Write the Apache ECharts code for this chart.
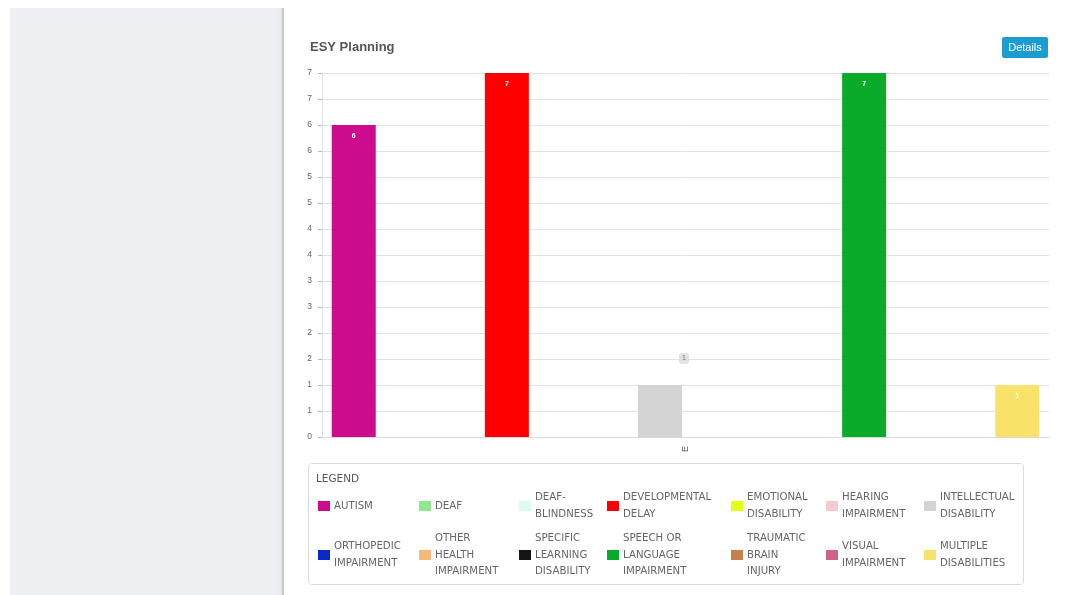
<!DOCTYPE html>
<html>
<head>
<meta charset="utf-8">
<script src="https://cdn.jsdelivr.net/npm/echarts@6/dist/echarts.min.js"></script>
<style>
  html, body { margin: 0; padding: 0; width: 1083px; height: 595px; background: #ffffff; overflow: hidden; }
  #side { position: absolute; left: 10px; top: 8px; width: 266px; height: 587px; background: #eff0f3; }
  #shade { position: absolute; left: 276px; top: 8px; width: 6px; height: 587px; background: linear-gradient(to right, #eff0f3, #e4e6ea); }
  #edge { position: absolute; left: 282px; top: 8px; width: 2px; height: 587px; background: #c4c6ca; }
  #chart { position: absolute; left: 0; top: 0; width: 1083px; height: 595px; }
</style>
</head>
<body>
<div id="side"></div>
<div id="shade"></div>
<div id="edge"></div>
<div id="chart"></div>
<script>
// ---- data ----
const categories = ['E'];
const seriesNames = [
  'AUTISM', 'DEAF', 'DEAF-BLINDNESS', 'DEVELOPMENTAL DELAY', 'EMOTIONAL DISABILITY',
  'HEARING IMPAIRMENT', 'INTELLECTUAL DISABILITY', 'ORTHOPEDIC IMPAIRMENT',
  'OTHER HEALTH IMPAIRMENT', 'SPECIFIC LEARNING DISABILITY', 'SPEECH OR LANGUAGE IMPAIRMENT',
  'TRAUMATIC BRAIN INJURY', 'VISUAL IMPAIRMENT', 'MULTIPLE DISABILITIES'
];
const seriesValues = [6, 0, 0, 7, 0, 0, 1, 0, 0, 0, 7, 0, 0, 1];
const legendLabels = [
  'AUTISM', 'DEAF', 'DEAF-\nBLINDNESS', 'DEVELOPMENTAL\nDELAY', 'EMOTIONAL\nDISABILITY',
  'HEARING\nIMPAIRMENT', 'INTELLECTUAL\nDISABILITY', 'ORTHOPEDIC\nIMPAIRMENT',
  'OTHER\nHEALTH\nIMPAIRMENT', 'SPECIFIC\nLEARNING\nDISABILITY', 'SPEECH OR\nLANGUAGE\nIMPAIRMENT',
  'TRAUMATIC\nBRAIN\nINJURY', 'VISUAL\nIMPAIRMENT', 'MULTIPLE\nDISABILITIES'
];
const seriesColors = [
  '#cc0c8c', '#8fe88f', '#dcfbf4', '#ff0000', '#e4ff10',
  '#fcc8d0', '#d4d4d4', '#0a28c8', '#f8b878', '#151515',
  '#0aaa2a', '#c8804a', '#d0628a', '#f9e26a'
];
const yTicks = { min: 0, max: 7, interval: 0.5 };

// ---- layout ----
const legendCols = [318, 419, 519, 607, 731, 826, 924];
const legendRowCenters = [506, 555];
const lineH = 16.5;

const series = seriesNames.map((name, i) => {
  const isIntel = name === 'INTELLECTUAL DISABILITY';
  return {
    name: name,
    type: 'bar',
    barWidth: 44,
    barGap: '16%',
    itemStyle: { color: seriesColors[i] },
    data: [seriesValues[i]],
    label: isIntel ? {
      show: true,
      position: 'top',
      offset: [24, -16],
      formatter: p => p.value ? String(p.value) : '',
      color: '#777',
      fontSize: 7,
      backgroundColor: '#e2e2e2',
      borderRadius: 3,
      padding: [2, 3]
    } : {
      show: true,
      position: 'insideTop',
      distance: 8,
      formatter: p => p.value ? String(p.value) : '',
      color: '#ffffff',
      fontSize: 7,
      fontWeight: 'bold'
    }
  };
});

const legends = seriesNames.map((name, i) => {
  const row = Math.floor(i / 7), col = i % 7;
  const lines = legendLabels[i].split('\n').length;
  const h = lines * lineH;
  return {
    data: [name],
    left: legendCols[col],
    top: legendRowCenters[row] - h / 2,
    padding: 0,
    itemWidth: 12,
    itemHeight: 10,
    itemGap: 0,
    icon: 'rect',
    selectedMode: false,
    formatter: () => legendLabels[i],
    textStyle: {
      color: '#666',
      fontSize: 10.2,
      fontFamily: 'DejaVu Sans',
      lineHeight: lineH,
      padding: [0, 0, 0, -1]
    }
  };
});

const chart = echarts.init(document.getElementById('chart'), null, { renderer: 'canvas' });
chart.setOption({
  animation: false,
  title: {
    text: 'ESY Planning',
    left: 305,
    top: 36,
    textStyle: { fontSize: 13, fontWeight: 'bold', color: '#555', fontFamily: 'Liberation Sans, Arial' }
  },
  grid: { left: 322, right: 34, top: 73, bottom: 158 },
  xAxis: {
    type: 'category',
    data: categories,
    axisLine: { lineStyle: { color: '#d8d8d8' } },
    axisTick: { show: false },
    axisLabel: { rotate: 90, fontSize: 9, color: '#555', margin: 9 }
  },
  yAxis: {
    type: 'value',
    min: yTicks.min,
    max: yTicks.max,
    interval: yTicks.interval,
    axisLine: { show: true, lineStyle: { color: '#e4e4e4' } },
    axisTick: { show: true, length: 4, lineStyle: { color: '#bbb' } },
    axisLabel: { fontSize: 8.5, color: '#666', margin: 10, formatter: v => String(Math.round(v)) },
    splitLine: { lineStyle: { color: '#e2e2e2' } }
  },
  legend: legends,
  series: series,
  graphic: [
    {
      type: 'rect',
      shape: { x: 308.5, y: 463.5, width: 715, height: 121, r: 3 },
      style: { fill: 'none', stroke: '#dcdcdc', lineWidth: 1 },
      z: 0
    },
    {
      type: 'text',
      left: 316,
      top: 474,
      style: { text: 'LEGEND', fill: '#555', fontSize: 10.5, fontFamily: 'DejaVu Sans' }
    },
    {
      type: 'group',
      left: 1002,
      top: 37,
      children: [
        { type: 'rect', shape: { x: 0, y: 0, width: 46, height: 21, r: 2 }, style: { fill: '#1b9dd3' } },
        { type: 'text', x: 23, y: 10.5, style: { text: 'Details', fill: '#fff', fontSize: 11, fontFamily: 'Liberation Sans, Arial', align: 'center', verticalAlign: 'middle' } }
      ]
    }
  ]
});
</script>
</body>
</html>
